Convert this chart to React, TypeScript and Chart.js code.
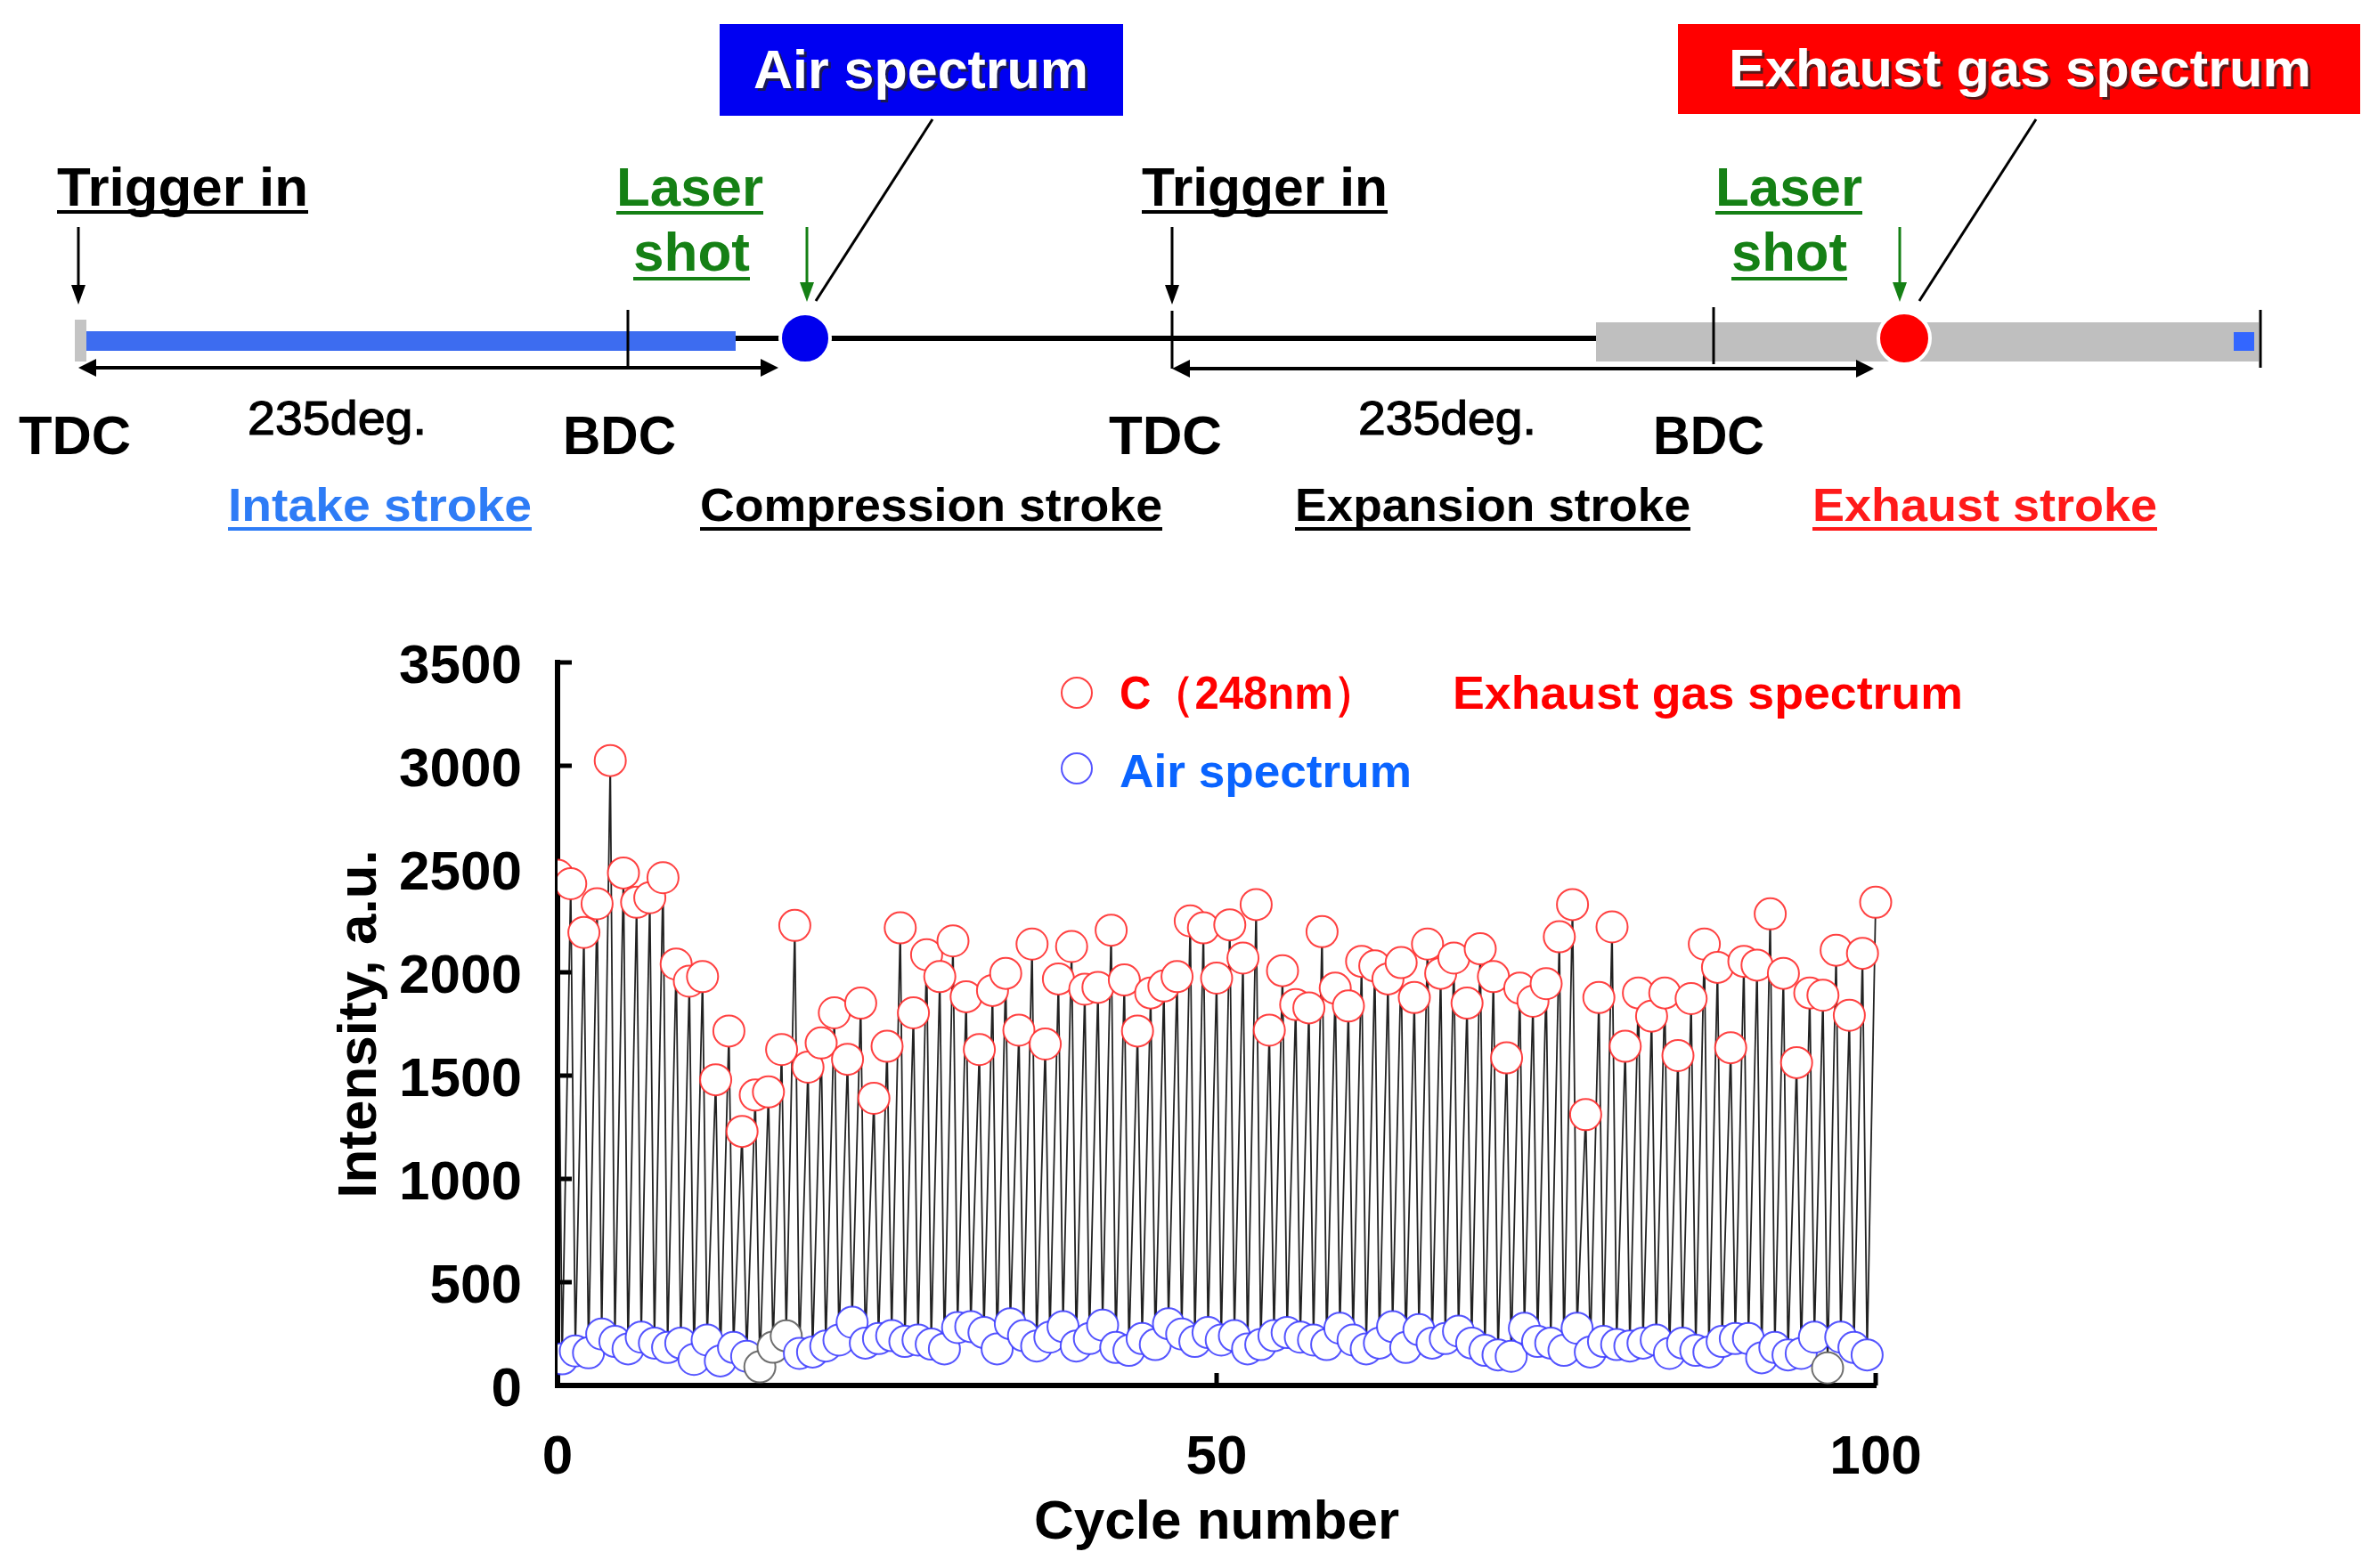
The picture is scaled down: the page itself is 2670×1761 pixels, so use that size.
import React, { useEffect, useRef } from 'react';
import { Chart, registerables } from 'chart.js';

Chart.register(...registerables);

// ---------- DATA ----------
// Exhaust gas spectrum, C (248 nm) intensity, cycles 0..100
const exhaustValues: number[] = [
  2470, 2429, 2193, 2332, 3025, 2481, 2339, 2361, 2458, 2040,
  1957, 1979, 1480, 1716, 1230, 1406, 1421, 1626, 2227, 1541,
  1658, 1804, 1579, 1851, 1390, 1642, 2215, 1804, 2085, 1979,
  2152, 1882, 1626, 1912, 1995, 1720, 2137, 1653, 1968, 2125,
  1918, 1927, 2204, 1963, 1716, 1900, 1934, 1979, 2249, 2215,
  1972, 2230, 2069, 2328, 1720, 2008, 1844, 1828, 2197, 1923,
  1837, 2053, 2031, 1968, 2047, 1878, 2137, 1995, 2069, 1851,
  2114, 1979, 1586, 1923, 1860, 1945, 2172, 2328, 1311, 1878,
  2220, 1642, 1900, 1788, 1900, 1597, 1873, 2137, 2024, 1635,
  2053, 2035, 2283, 1995, 1563, 1900, 1889, 2107, 1792, 2092,
  2339,
];

// Air spectrum intensity, cycles 0..99 (measured between exhaust shots)
const airValues: number[] = [
  129, 167, 158, 249, 213, 177, 234, 205, 184, 205,
  126, 220, 119, 184, 141, 90, 185, 240, 155, 162,
  191, 220, 306, 205, 227, 241, 213, 220, 200, 177,
  280, 285, 256, 177, 299, 241, 191, 234, 285, 191,
  227, 292, 184, 170, 227, 198, 299, 249, 213, 256,
  220, 241, 177, 198, 241, 256, 234, 220, 198, 277,
  220, 177, 205, 285, 184, 270, 205, 227, 263, 205,
  170, 148, 141, 277, 213, 205, 170, 277, 162, 213,
  198, 191, 205, 220, 155, 205, 170, 162, 213, 227,
  227, 134, 184, 148, 155, 234, 85, 234, 184, 148,
];

// air samples drawn with grey markers
const greyAirIndices: number[] = [15, 16, 17, 96];

// air shot sits this far (in cycles) after the exhaust shot
const AIR_OFFSET = 0.35;

const yTicksMax = 3500;
const yTickStep = 500;
const xTickStep = 50;
const xMax = 100;

const RED = 'rgba(255,45,45,0.9)';
const BLUE = 'rgba(55,55,255,0.85)';
const GREY = 'rgba(95,95,95,0.9)';

const FONT = '"Liberation Sans", Arial, sans-serif';

type Pt = { x: number; y: number; kind: string };

function buildPoints(): Pt[] {
  const pts: Pt[] = [];
  exhaustValues.forEach((v, i) => {
    pts.push({ x: i, y: v, kind: 'ex' });
    if (i < airValues.length) {
      pts.push({
        x: i + AIR_OFFSET,
        y: airValues[i],
        kind: greyAirIndices.includes(i) ? 'grey' : 'air',
      });
    }
  });
  return pts;
}

const innerTicks = {
  id: 'innerTicks',
  beforeDatasetsDraw(chart: any) {
    const { ctx, chartArea, scales } = chart;
    const x = scales.x;
    const y = scales.y;
    ctx.save();
    ctx.strokeStyle = '#000';
    ctx.lineWidth = 5;
    y.ticks.forEach((t: any) => {
      const py = y.getPixelForValue(t.value);
      ctx.beginPath();
      ctx.moveTo(chartArea.left, py);
      ctx.lineTo(chartArea.left + 16, py);
      ctx.stroke();
    });
    x.ticks.forEach((t: any) => {
      const px = x.getPixelForValue(t.value);
      ctx.beginPath();
      ctx.moveTo(px, chartArea.bottom);
      ctx.lineTo(px, chartArea.bottom - 14);
      ctx.stroke();
    });
    ctx.restore();
  },
};

function T(props: {
  x: number; y: number; w: number; size: number; color: string; text: string;
  bold?: boolean; ul?: number; semi?: boolean;
}) {
  const { x, y, w, size, color, text, bold = true, ul, semi } = props;
  return (
    <g>
      <text
        x={x}
        y={y}
        textLength={w}
        lengthAdjust="spacingAndGlyphs"
        fontSize={size}
        fontWeight={bold ? 700 : 400}
        fontFamily={FONT}
        fill={color}
        stroke={semi ? color : 'none'}
        strokeWidth={semi ? 1.2 : 0}
      >
        {text}
      </text>
      {ul !== undefined && <rect x={x} y={y + ul} width={w} height={4} fill={color} />}
    </g>
  );
}

function ShadowText(props: { x: number; y: number; w: number; size: number; text: string }) {
  const { x, y, w, size, text } = props;
  return (
    <g>
      <text x={x + 3} y={y + 3} textLength={w} lengthAdjust="spacingAndGlyphs" fontSize={size}
        fontWeight={700} fontFamily={FONT} fill="#222" opacity={0.75}>{text}</text>
      <text x={x} y={y} textLength={w} lengthAdjust="spacingAndGlyphs" fontSize={size}
        fontWeight={700} fontFamily={FONT} fill="#fff">{text}</text>
    </g>
  );
}

function DArrow({ x1, x2, y }: { x1: number; x2: number; y: number }) {
  const h = 10;
  const l = 20;
  return (
    <g>
      <line x1={x1 + l - 2} y1={y} x2={x2 - l + 2} y2={y} stroke="#000" strokeWidth={4} />
      <polygon points={`${x1},${y} ${x1 + l},${y - h} ${x1 + l},${y + h}`} fill="#000" />
      <polygon points={`${x2},${y} ${x2 - l},${y - h} ${x2 - l},${y + h}`} fill="#000" />
    </g>
  );
}

function DownArrow({ x, y1, y2, color }: { x: number; y1: number; y2: number; color: string }) {
  return (
    <g>
      <line x1={x} y1={y1} x2={x} y2={y2 - 14} stroke={color} strokeWidth={3} />
      <polygon points={`${x},${y2} ${x - 8},${y2 - 22} ${x + 8},${y2 - 22}`} fill={color} />
    </g>
  );
}

function Diagram() {
  const green = '#158015';
  return (
    <svg
      width={2670}
      height={1761}
      style={{ position: 'absolute', left: 0, top: 0, pointerEvents: 'none' }}
    >
      {/* boxes */}
      <rect x={808} y={27} width={453} height={103} fill="#0000f2" />
      <ShadowText x={846} y={99} w={376} size={62} text="Air spectrum" />
      <rect x={1884} y={27} width={766} height={101} fill="#ff0000" />
      <ShadowText x={1941} y={97} w={654} size={60} text="Exhaust gas spectrum" />

      {/* leader lines */}
      <line x1={916} y1={338} x2={1047} y2={134} stroke="#000" strokeWidth={3} />
      <line x1={2155} y1={338} x2={2286} y2={134} stroke="#000" strokeWidth={3} />

      {/* timeline */}
      <line x1={88} y1={380} x2={1792} y2={380} stroke="#000" strokeWidth={6} />
      <rect x={97} y={372} width={729} height={22} fill="#3d6cf0" />
      <rect x={84} y={359} width={13} height={47} fill="#c4c4c4" />
      <rect x={1792} y={362} width={744} height={44} fill="#bfbfbf" />
      <rect x={2508} y={373} width={23} height={21} fill="#3366ff" />
      <line x1={705} y1={348} x2={705} y2={413} stroke="#000" strokeWidth={3} />
      <line x1={1316} y1={349} x2={1316} y2={414} stroke="#000" strokeWidth={3} />
      <line x1={1924} y1={345} x2={1924} y2={409} stroke="#000" strokeWidth={3} />
      <line x1={2538} y1={348} x2={2538} y2={413} stroke="#000" strokeWidth={3} />
      <circle cx={904} cy={380} r={28} fill="#0000ee" stroke="#fff" strokeWidth={4} />
      <circle cx={2138} cy={380} r={29} fill="#ff0000" stroke="#fff" strokeWidth={4} />

      {/* arrows */}
      <DownArrow x={88} y1={255} y2={342} color="#000" />
      <DownArrow x={1316} y1={255} y2={342} color="#000" />
      <DownArrow x={906} y1={255} y2={339} color={green} />
      <DownArrow x={2133} y1={255} y2={339} color={green} />
      <DArrow x1={88} x2={874} y={413} />
      <DArrow x1={1316} x2={2104} y={414} />

      {/* labels */}
      <T x={64} y={231} w={282} size={62} color="#000" text="Trigger in" ul={5} />
      <T x={1282} y={231} w={276} size={62} color="#000" text="Trigger in" ul={5} />
      <T x={692} y={231} w={165} size={62} color={green} text="Laser" ul={6} />
      <T x={711} y={304} w={131} size={62} color={green} text="shot" ul={7} />
      <T x={1926} y={231} w={165} size={62} color={green} text="Laser" ul={6} />
      <T x={1944} y={304} w={130} size={62} color={green} text="shot" ul={7} />

      <T x={21} y={510} w={126} size={62} color="#000" text="TDC" />
      <T x={278} y={488} w={201} size={54} color="#000" text="235deg." bold={false} semi />
      <T x={632} y={510} w={127} size={62} color="#000" text="BDC" />
      <T x={1245} y={510} w={127} size={62} color="#000" text="TDC" />
      <T x={1525} y={488} w={200} size={54} color="#000" text="235deg." bold={false} semi />
      <T x={1856} y={510} w={125} size={62} color="#000" text="BDC" />

      <T x={256} y={585} w={341} size={52} color="#2e7cf6" text="Intake stroke" ul={7} />
      <T x={786} y={585} w={519} size={52} color="#000" text="Compression stroke" ul={7} />
      <T x={1454} y={585} w={444} size={52} color="#000" text="Expansion stroke" ul={7} />
      <T x={2035} y={585} w={387} size={52} color="#ff1a1a" text="Exhaust stroke" ul={7} />

      {/* chart legend */}
      <circle cx={1209} cy={778} r={17} fill="#fff" stroke={RED} strokeWidth={2} />
      <T x={1257} y={796} w={289} size={52} color="#ff0000" text="C（248nm）" />
      <T x={1631} y={796} w={573} size={52} color="#ff0000" text="Exhaust gas spectrum" />
      <circle cx={1209} cy={863} r={17} fill="#fff" stroke={BLUE} strokeWidth={2} />
      <T x={1257} y={884} w={328} size={52} color="#0a64ff" text="Air spectrum" />
    </svg>
  );
}

export default function App() {
  const ref = useRef<HTMLCanvasElement | null>(null);

  useEffect(() => {
    if (!ref.current) return;
    const pts = buildPoints();
    const tickFont = { family: FONT, size: 62, weight: 'bold' as const };
    const chart = new Chart(ref.current, {
      type: 'scatter',
      data: {
        datasets: [
          {
            label: 'C (248nm) / Air',
            data: pts.map((p) => ({ x: p.x, y: p.y })),
            showLine: true,
            borderColor: 'rgba(10,10,10,0.9)',
            borderWidth: 1.8,
            tension: 0,
            pointRadius: 17.5,
            pointBorderWidth: 2,
            pointBackgroundColor: '#ffffff',
            pointBorderColor: pts.map((p) =>
              p.kind === 'ex' ? RED : p.kind === 'grey' ? GREY : BLUE
            ),
            clip: { left: 0, top: false, right: false, bottom: false } as any,
          } as any,
        ],
      },
      options: {
        responsive: false,
        animation: false,
        devicePixelRatio: 1,
        layout: { padding: { left: 300, right: 564, top: 744, bottom: 13 } },
        plugins: {
          legend: { display: false },
          tooltip: { enabled: false },
        },
        scales: {
          x: {
            type: 'linear',
            position: 'bottom',
            min: 0,
            max: xMax,
            ticks: {
              stepSize: xTickStep,
              padding: 45,
              font: tickFont,
              color: '#000',
              maxRotation: 0,
              callback: (v: any) => String(v),
            },
            grid: { display: false, drawTicks: false },
            border: { display: true, color: '#000', width: 6 },
            title: {
              display: true,
              text: 'Cycle number',
              font: tickFont,
              color: '#000',
              padding: 0,
            },
            afterFit: (s: any) => {
              s.height = 192;
            },
          },
          y: {
            type: 'linear',
            min: 0,
            max: yTicksMax,
            ticks: {
              stepSize: yTickStep,
              padding: 40,
              labelOffset: 6,
              font: tickFont,
              color: '#000',
              callback: (v: any) => String(v),
            },
            grid: { display: false, drawTicks: false },
            border: { display: true, color: '#000', width: 6 },
            title: {
              display: true,
              text: 'Intensity, a.u.',
              font: tickFont,
              color: '#000',
              padding: { top: 68, bottom: 0 },
            },
            afterFit: (s: any) => {
              s.width = 326;
            },
          },
        },
      } as any,
      plugins: [innerTicks],
    });
    return () => chart.destroy();
  }, []);

  return (
    <div
      style={{
        position: 'absolute',
        left: 0,
        top: 0,
        width: 2670,
        height: 1761,
        background: '#fff',
        overflow: 'hidden',
      }}
    >
      <canvas
        ref={ref}
        width={2670}
        height={1761}
        style={{ position: 'absolute', left: 0, top: 0, width: 2670, height: 1761 }}
      />
      <Diagram />
    </div>
  );
}
